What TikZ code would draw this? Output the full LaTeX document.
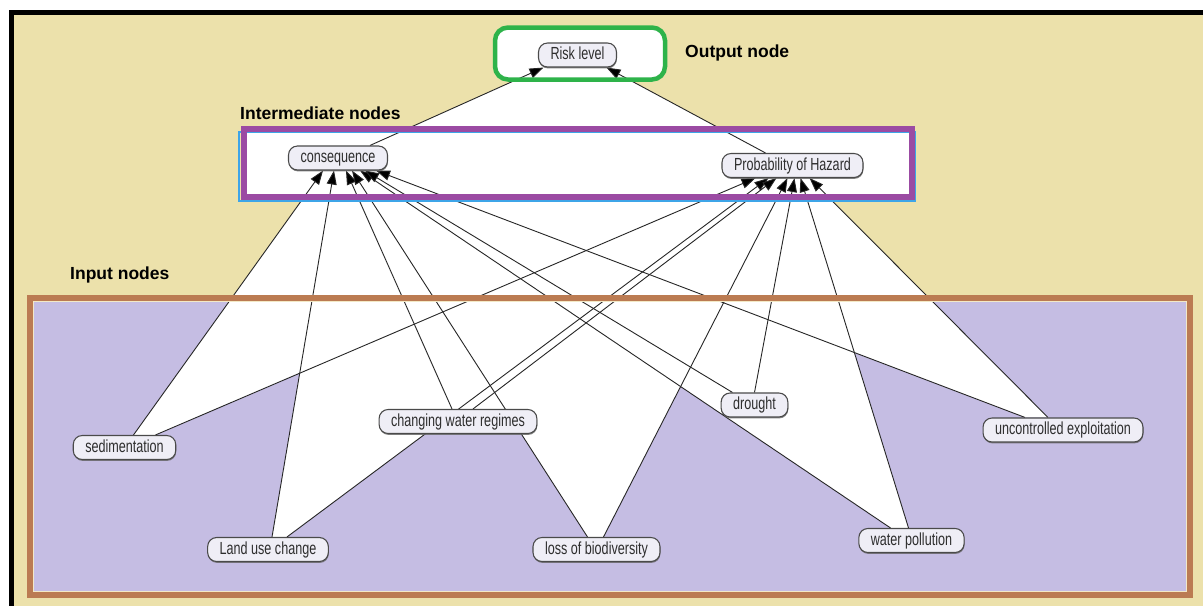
\documentclass[tikz,border=0pt]{standalone}
\usepackage{fontspec}
\setmainfont{Liberation Sans}
\newfontfamily\nodefont[FakeStretch=0.72]{Liberation Sans}
\usetikzlibrary{arrows.meta,shadows}

\definecolor{bgtan}{HTML}{ECE1AB}
\definecolor{inlav}{HTML}{C5BDE3}
\definecolor{inbrown}{HTML}{BB7B52}
\definecolor{inpale}{HTML}{F3E9C6}
\definecolor{midpurple}{HTML}{9B4BA3}
\definecolor{midblue}{HTML}{3DA5E8}
\definecolor{outgreen}{HTML}{2EB34A}
\definecolor{nodeline}{HTML}{4A4A4A}
\definecolor{nodefill}{HTML}{EFEEF6}
\definecolor{nodetext}{HTML}{2E2E2E}
\definecolor{linkcol}{HTML}{262626}

\pgfdeclarelayer{back}
\pgfdeclarelayer{mid}
\pgfsetlayers{back,mid,main}

\begin{document}
\begin{tikzpicture}[x=1pt,y=-1pt,
  netnode/.style={draw=nodeline, line width=1.1pt, fill=nodefill,
    rounded corners=9pt, inner xsep=12pt, inner ysep=0pt,
    minimum height=24pt, text height=12.5pt, text depth=3.5pt,
    text=nodetext, font=\nodefont\fontsize{17.5}{18}\selectfont,
    drop shadow={shadow xshift=0.4pt, shadow yshift=-1.4pt,
      fill=black!60, opacity=0.8}},
  link/.style={draw=linkcol, line width=0.9pt,
    -{Triangle[length=14pt,width=10pt,fill=black]}},
  heading/.style={font=\bfseries\fontsize{17.5}{20}\selectfont,
    text=black, inner sep=0pt, anchor=west}
]
\useasboundingbox (0,0) rectangle (1203,606);

% ---- network nodes ----
\node[netnode] (risk)    at (577.5,55)    {Risk level};
\node[netnode] (cons)    at (338,158)     {consequence};
\node[netnode] (poh)     at (792.5,165.5) {Probability of Hazard};
\node[netnode] (sed)     at (124.5,447.5) {sedimentation};
\node[netnode] (land)    at (268,549.5)   {Land use change};
\node[netnode] (cwr)     at (458,421.5)   {changing water regimes};
\node[netnode] (loss)    at (596.5,549.5) {loss of biodiversity};
\node[netnode] (drought) at (754.5,405)   {drought};
\node[netnode] (water)   at (911.5,540.5) {water pollution};
\node[netnode] (unc)     at (1063,430)    {uncontrolled exploitation};

% ---- group labels ----
\node[heading] (lout) at (685,53)  {Output node};
\node[heading] (lmid) at (240,113) {Intermediate nodes};
\node[heading] (lin)  at (70,275)  {Input nodes};

% ---- link end points ----
\coordinate (sedC)  at ([xshift=9pt]sed.north);
\coordinate (sedP)  at ([xshift=31pt]sed.north);
\coordinate (landC) at ([xshift=4pt]land.north);
\coordinate (landP) at ([xshift=19pt]land.north);
\coordinate (cwrC)  at ([xshift=-6pt]cwr.north);
\coordinate (cwrP)  at ([xshift=15pt]cwr.north);
\coordinate (lossC) at ([xshift=-9pt]loss.north);
\coordinate (lossP) at ([xshift=7pt]loss.north);
\coordinate (drC)   at ([xshift=-22pt]drought.north);
\coordinate (drP)   at (drought.north);
\coordinate (watC)  at ([xshift=-21pt]water.north);
\coordinate (watP)  at ([xshift=-3pt]water.north);
\coordinate (uncC)  at ([xshift=-38pt]unc.north);
\coordinate (uncP)  at ([xshift=-15pt]unc.north);

\coordinate (cSed)  at ([xshift=-15pt]cons.south);
\coordinate (cLand) at ([xshift=-4pt]cons.south);
\coordinate (cCwr)  at ([xshift=8pt]cons.south);
\coordinate (cLoss) at ([xshift=14pt]cons.south);
\coordinate (cWat)  at ([xshift=22pt]cons.south);
\coordinate (cDr)   at ([xshift=27pt]cons.south);
\coordinate (cUnc)  at ([xshift=38pt]cons.south);

\coordinate (pSed)  at ([xshift=-37pt]poh.south);
\coordinate (pLand) at ([xshift=-24pt]poh.south);
\coordinate (pCwr)  at ([xshift=-16pt]poh.south);
\coordinate (pLoss) at ([xshift=-5pt]poh.south);
\coordinate (pDr)   at ([xshift=2pt]poh.south);
\coordinate (pWat)  at ([xshift=8pt]poh.south);
\coordinate (pUnc)  at ([xshift=17pt]poh.south);

\coordinate (consR) at ([xshift=32pt]cons.north);
\coordinate (pohR)  at ([xshift=-27pt]poh.north);
\coordinate (rC)    at ([xshift=-34pt]risk.south);
\coordinate (rP)    at ([xshift=29pt]risk.south);

\coordinate (cwrBL) at (cwr.south west);
\coordinate (cwrBR) at (cwr.south east);

% ---- backgrounds ----
\begin{pgfonlayer}{back}
  \fill[white] (0,0) rectangle (1203,606);
  \fill[bgtan] (14,15) rectangle (1203,606);
  \fill[black] (9,10) rectangle (1203,15);
  \fill[black] (9,10) rectangle (14,606);
  \fill[inlav] (30,298) rectangle (1189.5,595);
  % area enclosed by the links
  \fill[white] (consR) -- (rC) -- (rP) -- (pohR) -- (pUnc) -- (uncP) -- (uncC)
    -- (intersection of uncC--cUnc and watP--pWat) -- (watP) -- (watC)
    -- (intersection of watC--cWat and lossP--pLoss) -- (lossP) -- (lossC)
    -- (intersection of lossC--cLoss and cwrBL--cwrBR)
    -- (intersection of landP--pLand and cwrBL--cwrBR) -- (landP) -- (landC)
    -- (intersection of landC--cLand and sedP--pSed) -- (sedP) -- (sedC)
    -- (cSed) -- cycle;
  \fill[white] (244,128.5) rectangle (912,197);
  \fill[white, rounded corners=13pt] (495,27.5) rectangle (665,79.5);
\end{pgfonlayer}

% ---- links and group frames ----
\begin{pgfonlayer}{mid}
  \draw[link] (sedC)  -- (cSed);
  \draw[link] (landC) -- (cLand);
  \draw[link] (cwrC)  -- (cCwr);
  \draw[link] (lossC) -- (cLoss);
  \draw[link] (watC)  -- (cWat);
  \draw[link] (drC)   -- (cDr);
  \draw[link] (uncC)  -- (cUnc);

  \draw[link] (sedP)  -- (pSed);
  \draw[link] (landP) -- (pLand);
  \draw[link] (cwrP)  -- (pCwr);
  \draw[link] (lossP) -- (pLoss);
  \draw[link] (drP)   -- (pDr);
  \draw[link] (watP)  -- (pWat);
  \draw[link] (uncP)  -- (pUnc);

  \draw[link] (consR) -- (rC);
  \draw[link] (pohR)  -- (rP);

  \draw[inbrown, line width=6pt] (30,298) rectangle (1189.5,595);
  \draw[inpale, line width=1pt] (33.5,301.5) rectangle (1186,591.5);
  \draw[midblue, line width=2pt] (239,132) rectangle (915,201);
  \draw[midpurple, line width=6pt] (244,128.5) rectangle (912,197);
  \draw[outgreen, line width=4.5pt, rounded corners=13pt] (495,27.5) rectangle (665,79.5);
\end{pgfonlayer}
\end{tikzpicture}
\end{document}
